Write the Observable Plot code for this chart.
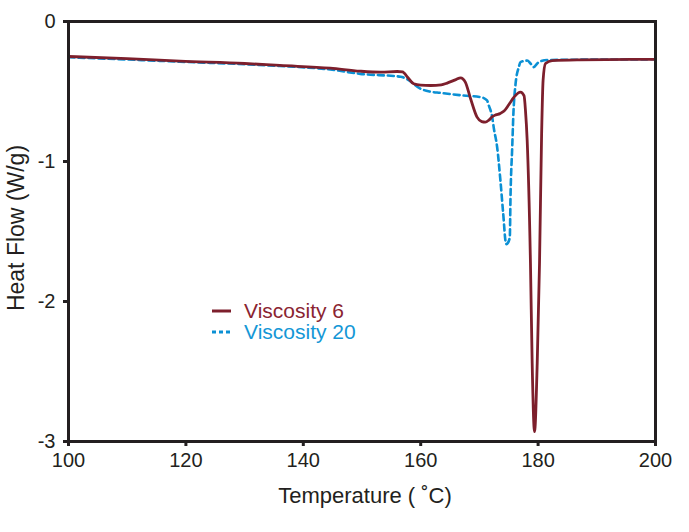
<!DOCTYPE html>
<html><head><meta charset="utf-8">
<script src="https://cdn.jsdelivr.net/npm/d3@7"></script>
<script src="https://cdn.jsdelivr.net/npm/@observablehq/plot@0.6"></script>
<style>
body{margin:0;background:#fff;}
#wrap{position:relative;width:689px;height:532px;font-family:"Liberation Sans",Arial,sans-serif;color:#231f20;}
#wrap svg.plot{position:absolute;left:0;top:0;}
.lab{position:absolute;white-space:nowrap;}
#xlab{left:365px;top:496px;transform:translate(-50%,-50%);font-size:22px;}
#ylab{left:16px;top:228px;transform:translate(-50%,-50%) rotate(-90deg);font-size:23px;}
.leg{position:absolute;left:211px;display:flex;align-items:center;font-size:21px;}
.leg svg{margin-right:12px;}
</style></head><body><div id="wrap"></div>
<script>
const seriesNames = ["Viscosity 6", "Viscosity 20"];
const seriesColors = ["#7d1f2c", "#0b90d4"];
const legendTextColors = ["#8a2431", "#1497d6"];

const tempV6 = [100, 110, 119, 130, 136, 144.6, 149.7, 153.2, 156.0, 156.9, 157.8, 158.8, 160.0, 161.7, 163.5, 164.5, 166.0, 166.8, 167.6, 168.5, 169.6, 170.4, 171.0, 171.6, 172.2, 172.8, 173.5, 174.2, 175.0, 175.9, 177.0, 177.6, 177.85, 178.14, 178.7, 178.99, 179.39, 179.85, 180.24, 180.6, 180.85, 181.26, 182.4, 187, 200];
const flowV6 = [-0.25, -0.265, -0.283, -0.300, -0.314, -0.333, -0.355, -0.362, -0.357, -0.36, -0.40, -0.445, -0.455, -0.457, -0.452, -0.44, -0.415, -0.402, -0.433, -0.552, -0.683, -0.715, -0.719, -0.705, -0.68, -0.667, -0.658, -0.64, -0.595, -0.54, -0.505, -0.53, -0.636, -0.85, -1.73, -2.44, -2.93, -2.44, -1.73, -0.8, -0.42, -0.30, -0.279, -0.274, -0.27];

const tempV20 = [100, 119, 136, 144.6, 149.7, 156.6, 157.6, 160.0, 161.5, 163.4, 167.3, 170.2, 171.3, 171.6, 172.18, 172.45, 173.03, 173.59, 174.05, 174.56, 174.87, 175.18, 175.30, 175.59, 175.8, 176.15, 176.71, 177.0, 178.14, 178.7, 179.27, 179.85, 180.12, 181.55, 190, 200];
const flowV20 = [-0.255, -0.287, -0.318, -0.343, -0.374, -0.395, -0.41, -0.481, -0.50, -0.51, -0.529, -0.54, -0.564, -0.60, -0.683, -0.76, -0.90, -1.14, -1.37, -1.59, -1.58, -1.54, -1.25, -0.9, -0.65, -0.45, -0.326, -0.29, -0.279, -0.30, -0.326, -0.30, -0.29, -0.275, -0.272, -0.27];

const xTicks = [100, 120, 140, 160, 180, 200];
const yTicks = [0, -1, -2, -3];
const xLabel = "Temperature ( \u02DAC)";
const yLabel = "Heat Flow (W/g)";

const rows6 = tempV6.map((t, i) => ({t, f: flowV6[i], s: seriesNames[0]}));
const rows20 = tempV20.map((t, i) => ({t, f: flowV20[i], s: seriesNames[1]}));

const chart = Plot.plot({
  width: 689, height: 532,
  marginLeft: 68, marginRight: 34, marginTop: 21, marginBottom: 91,
  style: {fontFamily: '"Liberation Sans", Arial, sans-serif', fontSize: "20px", color: "#231f20", background: "transparent"},
  x: {domain: [100, 200]},
  y: {domain: [-3, 0]},
  marks: [
    Plot.axisX({ticks: xTicks, tickSize: 5, tickPadding: 6, strokeWidth: 3, label: null, tickFormat: d => String(d), fontSize: 20}),
    Plot.axisY({ticks: yTicks, tickSize: 5, tickPadding: 8, strokeWidth: 3, label: null, tickFormat: d => String(d), fontSize: 20}),
    Plot.line(rows20, {x: "t", y: "f", stroke: seriesColors[1], strokeWidth: 2.6, strokeDasharray: "6,4", curve: "monotone-x"}),
    Plot.line(rows6, {x: "t", y: "f", stroke: seriesColors[0], strokeWidth: 2.8, curve: "monotone-x"}),
    Plot.frame({stroke: "#231f20", strokeWidth: 3})
  ]
});
chart.classList.add("plot");
const wrap = document.getElementById("wrap");
wrap.appendChild(chart);

const xl = document.createElement("div"); xl.className = "lab"; xl.id = "xlab"; xl.textContent = xLabel; wrap.appendChild(xl);
const yl = document.createElement("div"); yl.className = "lab"; yl.id = "ylab"; yl.textContent = yLabel; wrap.appendChild(yl);

const legTops = [311, 332];
seriesNames.forEach((name, i) => {
  const d = document.createElement("div");
  d.className = "leg";
  d.style.top = (legTops[i] - 12) + "px";
  d.style.height = "24px";
  d.style.color = legendTextColors[i];
  const dash = i === 1 ? 'stroke-dasharray="4,3"' : '';
  d.innerHTML = `<svg width="21" height="6"><line x1="1" x2="20" y1="3" y2="3" stroke="${seriesColors[i]}" stroke-width="3" ${dash}/></svg><span>${name}</span>`;
  wrap.appendChild(d);
});
</script>
</body></html>
